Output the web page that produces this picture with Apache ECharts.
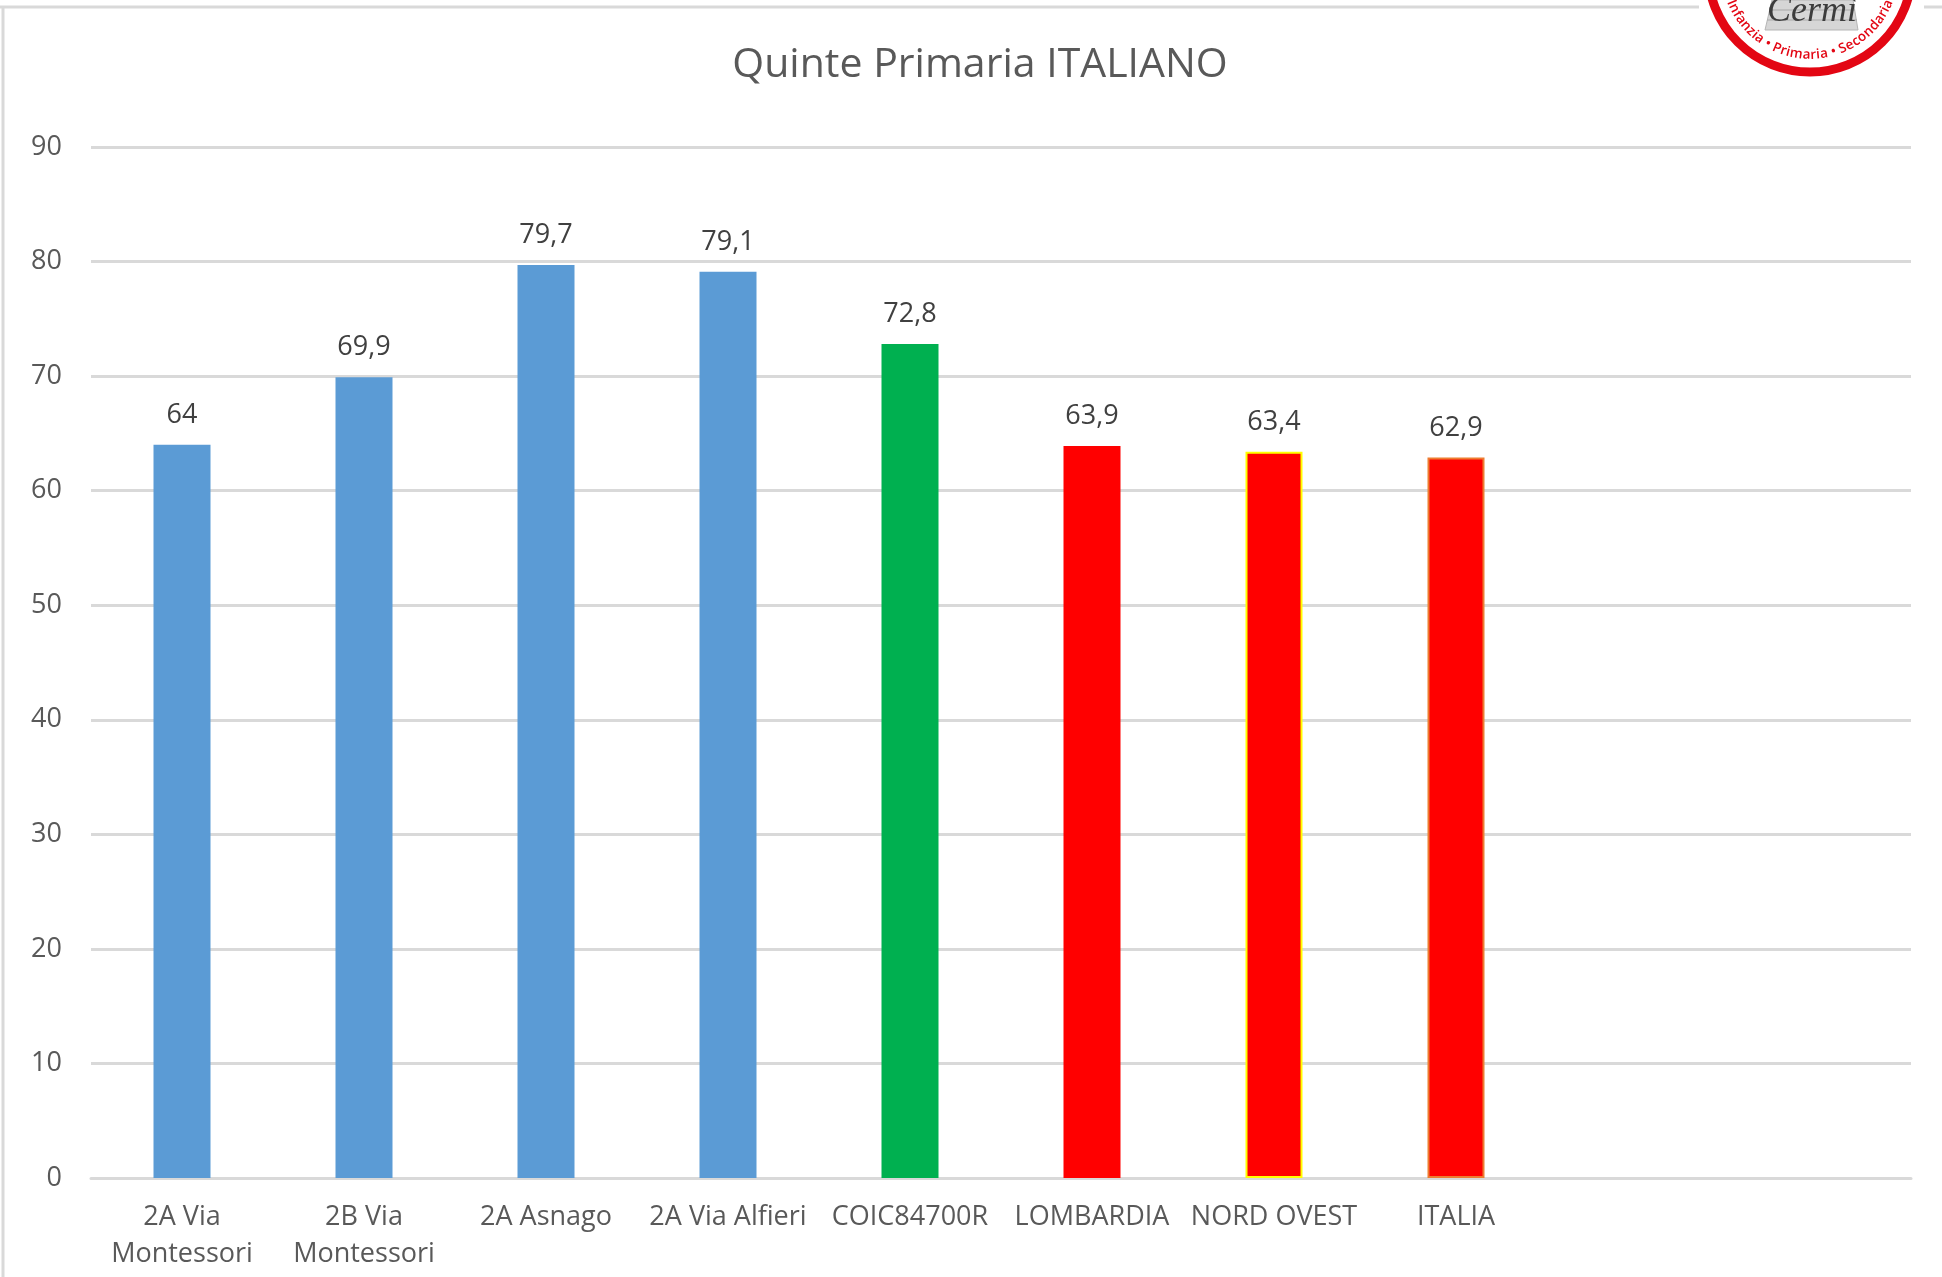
<!DOCTYPE html>
<html>
<head>
<meta charset="utf-8">
<style>
  html, body { margin: 0; padding: 0; background: #fff; }
  #chart { width: 1942px; height: 1277px; }
</style>
<script src="https://cdn.jsdelivr.net/npm/echarts@6/dist/echarts.min.js"></script>
</head>
<body>
<div id="chart"></div>
<script>
const titleText = 'Quinte Primaria ITALIANO';
// two empty slots on the right, the axis runs on past ITALIA
const categories = ['2A Via\nMontessori', '2B Via\nMontessori', '2A Asnago', '2A Via Alfieri', 'COIC84700R', 'LOMBARDIA', 'NORD OVEST', 'ITALIA', '', ''];
const values = [64, 69.9, 79.7, 79.1, 72.8, 63.9, 63.4, 62.9, null, null];
const barColors = ['#5b9bd5', '#5b9bd5', '#5b9bd5', '#5b9bd5', '#00b050', '#ff0000', '#ff0000', '#ff0000', '#ff0000', '#ff0000'];
const barBorders = [null, null, null, null, null, null, '#ffff00', '#ed7d31', null, null];
const logoRingText = 'Infanzia • Primaria • Secondaria';

const font = '"Open Sans", sans-serif';
const textColor = '#595959';
const gridColor = '#d9d9d9';

const chart = echarts.init(document.getElementById('chart'), null, { renderer: 'canvas' });

// logo in the top right corner
const logoX = 1810, logoY = -30, logoR = 102;
const logoRed = '#e30613';

function logoLetters() {
    const ctx = document.createElement('canvas').getContext('2d');
    const size = 13.5;
    ctx.font = '600 ' + size + 'px "Open Sans"';
    const radius = 85;
    const widths = logoRingText.split('').map(c => ctx.measureText(c).width);
    const total = widths.reduce((a, b) => a + b, 0);
    let run = -total / 2;
    return logoRingText.split('').map((c, i) => {
        const angle = (run + widths[i] / 2) / radius;
        run += widths[i];
        return {
            type: 'text',
            x: logoX + radius * Math.sin(angle),
            y: logoY + radius * Math.cos(angle),
            rotation: angle,
            z: 23,
            style: { text: c, fill: logoRed, font: '600 ' + size + 'px "Open Sans"', align: 'center', verticalAlign: 'middle' }
        };
    });
}

const brickLine = { stroke: '#a8a8a8', lineWidth: 1 };
const logoGraphics = [
    { type: 'rect', z: 20, shape: { x: 1699, y: 0, width: 225, height: 90 }, style: { fill: '#fff' } },
    { type: 'circle', z: 21, shape: { cx: logoX, cy: logoY, r: logoR }, style: { fill: '#fff', stroke: logoRed, lineWidth: 9 } },
    { type: 'polygon', z: 22, shape: { points: [[1772, 0], [1853, 0], [1858, 30], [1765, 30]] }, style: { fill: '#d6d6d6', stroke: '#b5b5b5', lineWidth: 1 } },
    { type: 'line', z: 22, shape: { x1: 1769, y1: 10, x2: 1855, y2: 10 }, style: brickLine },
    { type: 'line', z: 22, shape: { x1: 1767, y1: 20, x2: 1857, y2: 20 }, style: brickLine },
    { type: 'text', z: 23, x: 1812, y: 12, style: { text: 'Cermì', fill: '#3c3c3c', font: 'italic 36px "Liberation Serif"', align: 'center', verticalAlign: 'middle' } }
].concat(logoLetters());

const option = {
    backgroundColor: '#fff',
    animation: false,
    title: {
        text: titleText,
        left: 975,
        top: 40,
        textAlign: 'center',
        textStyle: { color: textColor, fontFamily: font, fontSize: 41, fontWeight: 'normal' }
    },
    grid: { left: 91, right: 31, top: 147, bottom: 99 },
    xAxis: {
        type: 'category',
        data: categories,
        axisLine: { lineStyle: { color: gridColor, width: 3 } },
        axisTick: { show: false },
        axisLabel: { color: textColor, fontFamily: font, fontSize: 27, lineHeight: 37, margin: 21, interval: 0 }
    },
    yAxis: {
        type: 'value',
        min: 0,
        max: 90,
        interval: 10,
        axisLine: { show: false },
        axisTick: { show: false },
        axisLabel: { color: textColor, fontFamily: font, fontSize: 27, margin: 29 },
        splitLine: { lineStyle: { color: gridColor, width: 3 } }
    },
    series: [{
        type: 'bar',
        barWidth: 57,
        data: values.map((v, i) => ({
            value: v,
            itemStyle: {
                color: barColors[i],
                borderColor: barBorders[i] || barColors[i],
                borderWidth: barBorders[i] ? 2 : 0
            }
        })),
        label: {
            show: true,
            position: 'top',
            distance: 16,
            color: '#404040',
            fontFamily: font,
            fontSize: 27,
            formatter: p => String(p.value).replace('.', ',')
        }
    }],
    graphic: [
        // frame of the pasted picture, only top and left show
        { type: 'line', z: 1, shape: { x1: 0, y1: 7, x2: 1942, y2: 7 }, style: { stroke: gridColor, lineWidth: 3 } },
        { type: 'line', z: 1, shape: { x1: 3, y1: 7, x2: 3, y2: 1277 }, style: { stroke: gridColor, lineWidth: 3 } }
    ].concat(logoGraphics)
};

chart.setOption(option);
</script>
</body>
</html>
